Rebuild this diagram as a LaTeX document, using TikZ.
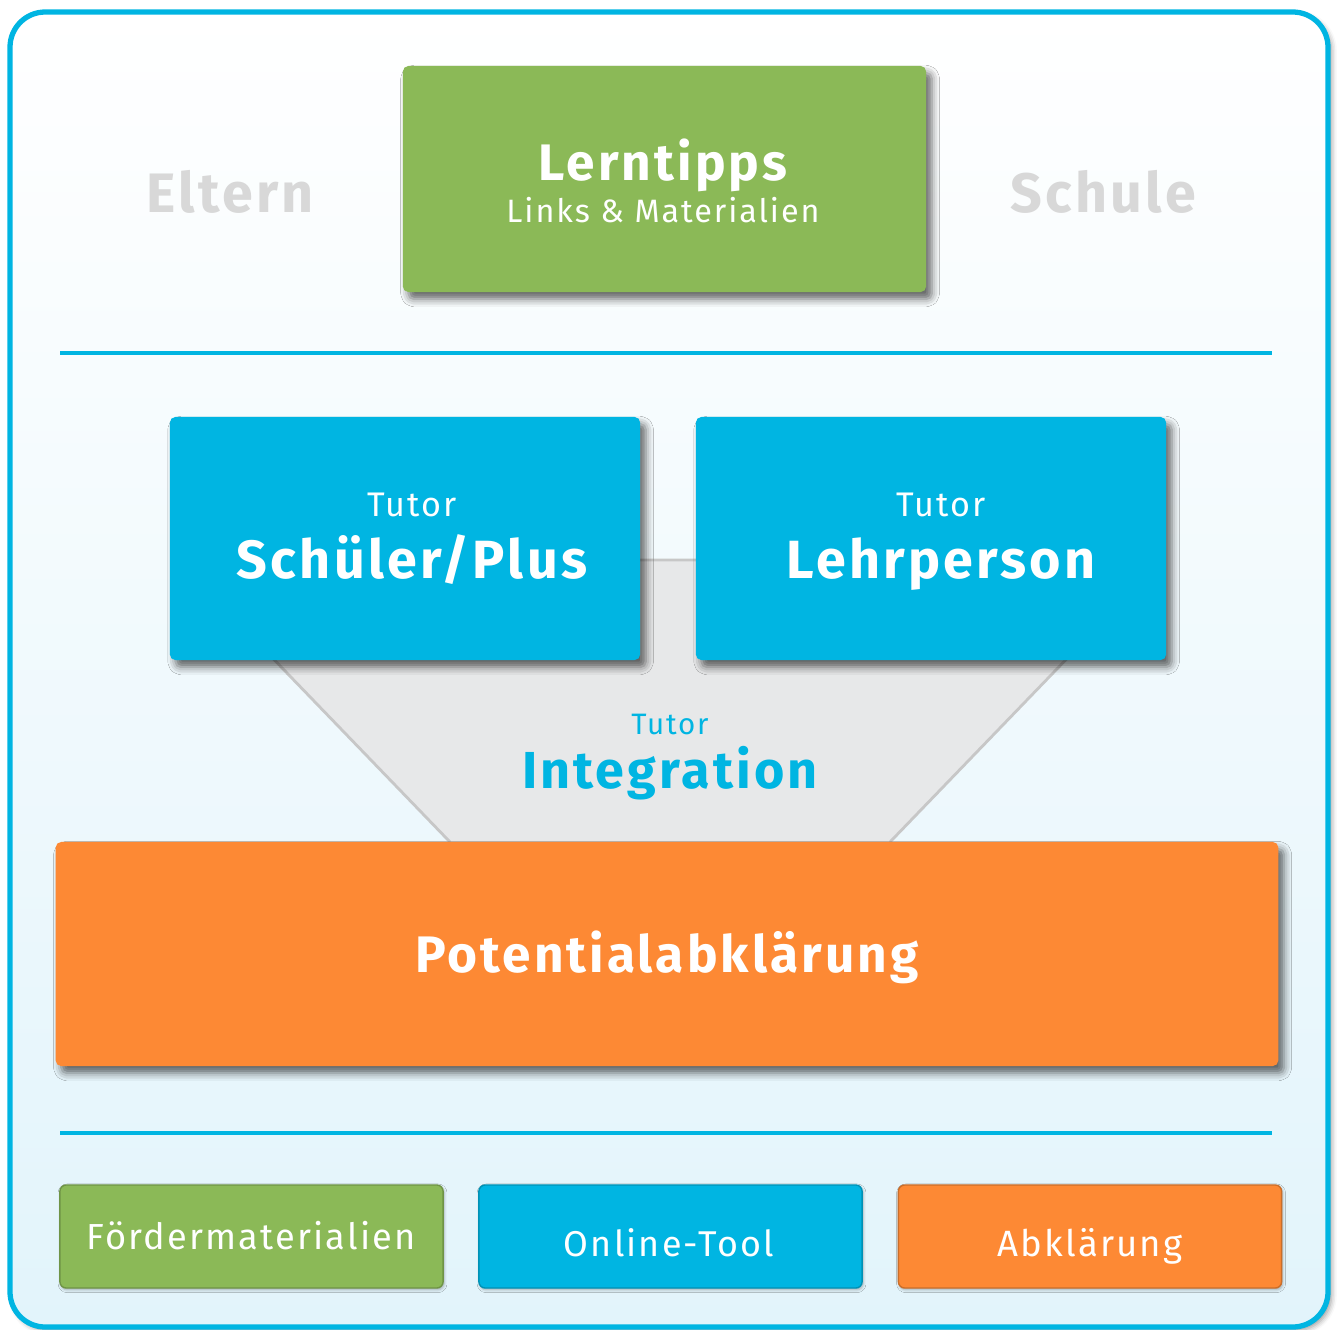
\documentclass[tikz,border=0pt]{standalone}
\usepackage{fontspec}
\setmainfont{Fira Sans}[LetterSpace=6]
\usetikzlibrary{shadows.blur}
\definecolor{tcyan}{RGB}{0,181,226}
\definecolor{tgreen}{RGB}{139,185,87}
\definecolor{torange}{RGB}{253,137,52}
\definecolor{tgray}{RGB}{231,232,233}
\definecolor{tlabel}{RGB}{216,216,216}
\definecolor{tpale}{RGB}{226,244,251}
\tikzset{
  box/.style={rounded corners=1.6pt, inner sep=0pt,
      blur shadow={shadow xshift=1.6pt, shadow yshift=-2pt, shadow blur radius=2.2pt, shadow opacity=60}},
  tab/.style={rounded corners=1.8pt, inner sep=0pt, minimum height=1.03cm, minimum width=3.83cm, line width=0.4pt,
      blur shadow={shadow xshift=0.3pt, shadow yshift=-0.5pt, shadow blur radius=0.8pt, shadow opacity=30}},
  txt/.style={anchor=base, inner sep=0pt, text=white}
}

\begin{document}
\begin{tikzpicture}[x=0.01cm, y=-0.01cm]
  \useasboundingbox (0,0) rectangle (1339,1330);
  % frame
  \draw[line width=1.5pt, draw=tcyan, rounded corners=10pt, top color=white, bottom color=tpale,
      blur shadow={shadow xshift=1pt, shadow yshift=-1pt, shadow blur radius=1.5pt, shadow opacity=40}]
    (10,12) rectangle (1328,1327);
  \node[text=tlabel, anchor=base, font=\bfseries\fontsize{15.8}{19}\selectfont] (eltern) at (230,212) {Eltern};
  \node[text=tlabel, anchor=base, font=\bfseries\fontsize{15.8}{19}\selectfont] (schule) at (1103,212) {Schule};

  % top
  \node[box, fill=tgreen, minimum width=5.23cm, minimum height=2.26cm] (lern) at (664.5,179) {};
  \node[txt, font=\bfseries\fontsize{14.6}{17}\selectfont] (lerntitle) at (663,180) {Lerntipps};
  \node[txt, font=\fontsize{9.2}{11}\selectfont] (lernsub) at (663,222) {Links \& Materialien};

  \draw[tcyan, line width=0.9pt] (60,353) -- (1272,353);

  % integration funnel
  \fill[tgray] (178,560) -- (1162,560) -- (890,842) -- (450,842) -- cycle;
  \draw[black!22, line width=0.8pt] (450,842) -- (178,560) -- (1162,560) -- (890,842);
  \node[text=tcyan, anchor=base, font=\fontsize{8.4}{10}\selectfont] (inttop) at (670,734) {Tutor};
  \node[text=tcyan, anchor=base, font=\bfseries\fontsize{14.8}{18}\selectfont] (int) at (670,788) {Integration};

  % tutors
  \node[box, fill=tcyan, minimum width=4.70cm, minimum height=2.43cm] (schueler) at (405,538.5) {};
  \node[box, fill=tcyan, minimum width=4.70cm, minimum height=2.43cm] (lehr) at (931,538.5) {};
  \node[txt, font=\fontsize{9.7}{12}\selectfont] (schuelertop) at (412,516) {Tutor};
  \node[txt, font=\bfseries\fontsize{15.3}{18}\selectfont] (schuelertitle) at (412,578) {Schüler/Plus};
  \node[txt, font=\fontsize{9.7}{12}\selectfont] (lehrtop) at (941,516) {Tutor};
  \node[txt, font=\bfseries\fontsize{15.3}{18}\selectfont] (lehrtitle) at (941,578) {Lehrperson};

  % potential
  \node[box, fill=torange, minimum width=12.22cm, minimum height=2.24cm] (pot) at (667,954) {};
  \node[txt, font=\bfseries\fontsize{14.6}{18}\selectfont] (pottitle) at (667,972) {Potentialabklärung};

  \draw[tcyan, line width=0.9pt] (60,1133) -- (1272,1133);

  % tools
  \node[tab, fill=tgreen, draw=tgreen!80!black] (foerder) at (251.5,1236.5) {};
  \node[tab, fill=tcyan, draw=tcyan!80!black] (online) at (670.5,1236.5) {};
  \node[tab, fill=torange, draw=torange!80!black] (abkl) at (1090,1236.5) {};
  \node[txt, font=\fontsize{10.3}{13}\selectfont] (foerdertxt) at (251,1249) {Fördermaterialien};
  \node[txt, font=\fontsize{10.2}{13}\selectfont] (onlinetxt) at (669,1256) {Online-Tool};
  \node[txt, font=\fontsize{10.4}{13}\selectfont] (abkltxt) at (1090,1256) {Abklärung};
\end{tikzpicture}
\end{document}
